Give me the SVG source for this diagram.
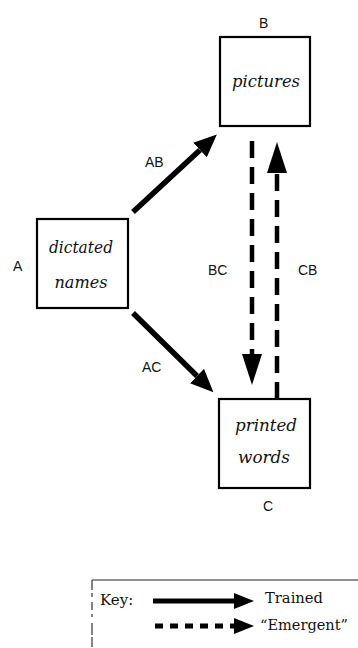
<svg xmlns="http://www.w3.org/2000/svg" width="358" height="648" viewBox="0 0 358 648">
<style>
.box{fill:#fff;stroke:#000;stroke-width:2.2}
.nt{font-family:"DejaVu Serif","Liberation Serif",serif;font-style:italic;font-size:16px;fill:#111;text-anchor:middle}
.lb{font-family:"Liberation Sans",Arial,sans-serif;font-size:14px;fill:#111}
.kt{font-family:"DejaVu Serif","Liberation Serif",serif;font-size:15px;fill:#111}
.sol{stroke:#000;stroke-width:5.5;fill:none}
.dsh{stroke:#000;stroke-width:4.5;fill:none;stroke-dasharray:17 9}
</style>
<defs>
<marker id="hd" markerUnits="userSpaceOnUse" markerWidth="24" markerHeight="22" refX="0" refY="10" orient="auto" viewBox="0 0 24 22">
<path d="M0,0 L23,10 L0,20 z" fill="#000"/>
</marker>
<marker id="hv" markerUnits="userSpaceOnUse" markerWidth="32" markerHeight="22" refX="0" refY="10" orient="auto" viewBox="0 0 32 22">
<path d="M0,0 L31,10 L0,20 z" fill="#000"/>
</marker>
<marker id="hk" markerUnits="userSpaceOnUse" markerWidth="22" markerHeight="18" refX="0" refY="8" orient="auto" viewBox="0 0 22 18">
<path d="M0,0 L20,8 L0,16 z" fill="#000"/>
</marker>
</defs>
<g id="connectors">
<line id="AB" class="sol" x1="133" y1="212" x2="200" y2="150" marker-end="url(#hd)"/>
<line id="AC" class="sol" x1="133" y1="313" x2="197" y2="376" marker-end="url(#hd)"/>
<line id="BC" class="dsh" x1="252" y1="141" x2="252" y2="354" marker-end="url(#hv)"/>
<line id="CB" class="dsh" x1="277" y1="399" x2="277" y2="173" marker-end="url(#hv)"/>
<text class="lb" x="145" y="167">AB</text>
<text class="lb" x="142" y="372">AC</text>
<text class="lb" x="208" y="275">BC</text>
<text class="lb" x="298" y="275">CB</text>
</g>
<g id="nodeA">
<rect class="box" x="37" y="219" width="91" height="89"/>
<text class="nt" x="81" y="253" textLength="64" lengthAdjust="spacingAndGlyphs">dictated</text>
<text class="nt" x="81" y="288" textLength="53" lengthAdjust="spacingAndGlyphs">names</text>
<text class="lb" x="13" y="271">A</text>
</g>
<g id="nodeB">
<rect class="box" x="220" y="37" width="90" height="89"/>
<text class="nt" x="266" y="87" textLength="68" lengthAdjust="spacingAndGlyphs">pictures</text>
<text class="lb" x="259" y="28">B</text>
</g>
<g id="nodeC">
<rect class="box" x="219" y="399" width="91" height="89"/>
<text class="nt" x="266" y="431" textLength="62" lengthAdjust="spacingAndGlyphs">printed</text>
<text class="nt" x="264" y="463" textLength="52" lengthAdjust="spacingAndGlyphs">words</text>
<text class="lb" x="263" y="511">C</text>
</g>
<g id="key">
<line x1="92" y1="580" x2="358" y2="580" stroke="#222" stroke-width="1.2"/>
<line x1="92" y1="580" x2="92" y2="648" stroke="#333" stroke-width="1.2" stroke-dasharray="10 3 4 5 8 4 3 6 12 2"/>
<text class="kt" x="100" y="605">Key:</text>
<line x1="153" y1="601" x2="234" y2="601" stroke="#000" stroke-width="5" marker-end="url(#hk)"/>
<text class="kt" x="265" y="603" textLength="58" lengthAdjust="spacingAndGlyphs">Trained</text>
<line x1="155" y1="626" x2="234" y2="626" stroke="#000" stroke-width="5" stroke-dasharray="8 7" marker-end="url(#hk)"/>
<text class="kt" x="260" y="630" textLength="88" lengthAdjust="spacingAndGlyphs">“Emergent”</text>
</g>
</svg>
